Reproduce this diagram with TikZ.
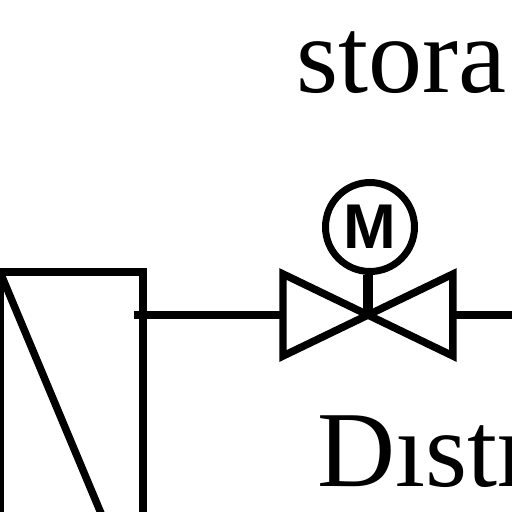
\documentclass[tikz,border=0pt]{standalone}
\usepackage{fontspec}
\setmainfont{Liberation Serif}
\newfontfamily\labelsans{Liberation Sans}
\usetikzlibrary{calc}

\tikzset{
    pipeline/.style={line width=0.16cm},
    valveline/.style={line width=0.15cm,miter limit=10},
    bigtext/.style={inner sep=0pt,anchor=base west,font=\fontsize{61.5}{62}\selectfont},
}

\begin{document}
\begin{tikzpicture}[x=0.02cm,y=-0.02cm]
        \useasboundingbox (0,0) rectangle (512,512);
        \clip (0,0) rectangle (512,512);
        %label
        \node[bigtext] (storage) at (296,92) {stora};
        \node[bigtext] (distr) at (317,486) {D\i str};
        %box
        \coordinate (boxtl) at (0,272);
        \coordinate (boxtr) at (143,272);
        \coordinate (boxbl) at (0,530);
        \coordinate (boxbr) at (143,530);
        \coordinate (diagend) at (108,530);
        \draw[valveline] (boxbl)--(boxtl)--(boxtr)--(boxbr);
        \draw[valveline] (boxtl)--(diagend);
        %valve
        \coordinate (valve) at (368,315);
        \draw[valveline] (valve)--(283,274)--(283,356)--cycle;
        \draw[valveline] (valve)--(453,274)--(453,356)--cycle;
        %motor
        \node[draw,circle,line width=0.14cm,minimum size=1.78cm,inner sep=0pt,
            font=\labelsans\bfseries\fontsize{36}{36}\selectfont] (motor) at (370,227) {M};
        \draw[line width=0.19cm] (motor.south-|valve)--(valve);
        %pipe
        \coordinate (pipestart) at (134,315);
        \coordinate (pipeend) at (512,315);
        \draw[pipeline] (pipestart)--(283,315);
        \draw[pipeline] (453,315)--(pipeend);
    \end{tikzpicture}
\end{document}
